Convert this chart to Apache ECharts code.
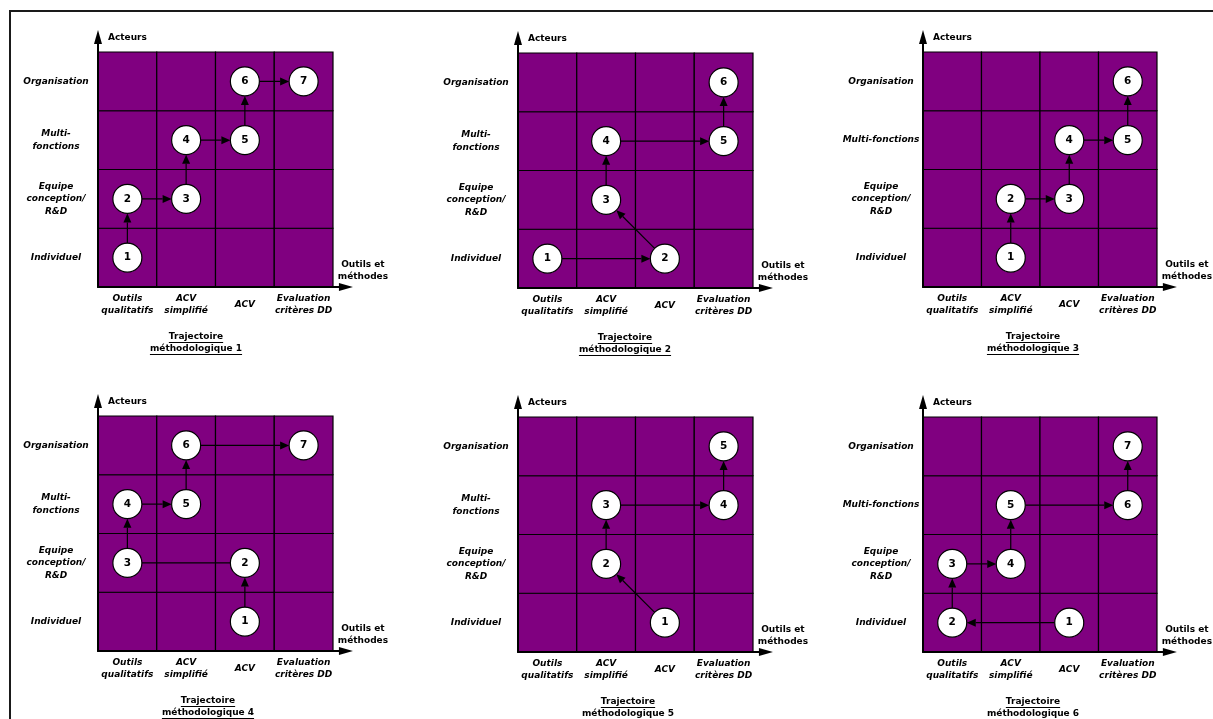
<!DOCTYPE html>
<html><head><meta charset="utf-8">
<script src="https://cdn.jsdelivr.net/npm/echarts@6/dist/echarts.min.js"></script>
<style>html,body{margin:0;padding:0;background:#fff}#c{width:1213px;height:719px}</style>
</head><body><div id="c"></div>
<script>
// ---------------- data ----------------
const tools = ['Outils\nqualitatifs', 'ACV\nsimplifié', 'ACV', 'Evaluation\ncritères DD'];
const actors = ['Individuel', 'Equipe\nconception/\nR&D', 'Multi-\nfonctions', 'Organisation'];
const actorsOneLine = ['Individuel', 'Equipe\nconception/\nR&D', 'Multi-fonctions', 'Organisation'];
const xAxisName = 'Outils et\nméthodes';
const yAxisName = 'Acteurs';
const titles = [
  ['Trajectoire', 'méthodologique 1'],
  ['Trajectoire', 'méthodologique 2'],
  ['Trajectoire', 'méthodologique 3'],
  ['Trajectoire', 'méthodologique 4'],
  ['Trajectoire', 'méthodologique 5'],
  ['Trajectoire', 'méthodologique 6']
];
// each step: [tool index, actor index]
const traj1 = [[0,0],[0,1],[1,1],[1,2],[2,2],[2,3],[3,3]];
const traj2 = [[0,0],[2,0],[1,1],[1,2],[3,2],[3,3]];
const traj3 = [[1,0],[1,1],[2,1],[2,2],[3,2],[3,3]];
const traj4 = [[2,0],[2,1],[0,1],[0,2],[1,2],[1,3],[3,3]];
const traj5 = [[2,0],[1,1],[1,2],[3,2],[3,3]];
const traj6 = [[2,0],[0,0],[0,1],[1,1],[1,2],[3,2],[3,3]];
const trajectories = [traj1, traj2, traj3, traj4, traj5, traj6];
// links drawn without arrow head (panel index -> step index)
const linksWithoutHead = [[], [], [], [1], [], []];
const actorLabelSets = [actors, actors, actorsOneLine, actors, actors, actorsOneLine];

// ---------------- layout ----------------
const CELL = 235;
const XMAX = 4.22, YMAX = 4.255;
const layout = [
  {cx: 98,  cy: 52,  tx: 196,  ty: 337},
  {cx: 518, cy: 53,  tx: 625,  ty: 338},
  {cx: 923, cy: 52,  tx: 1033, ty: 337},
  {cx: 98,  cy: 416, tx: 208,  ty: 701},
  {cx: 518, cy: 417, tx: 628,  ty: 702},
  {cx: 923, cy: 417, tx: 1033, ty: 702}
];
const FONT = '"DejaVu Sans", Verdana, sans-serif';
const PURPLE = '#800080';

const grids = [], xAxes = [], yAxes = [], series = [], graphics = [];

// outer frame
graphics.push({type: 'rect', shape: {x: 10, y: 11, width: 1400, height: 900},
  style: {fill: 'none', stroke: '#1a1a1a', lineWidth: 2}, silent: true});

const mctx = document.createElement('canvas').getContext('2d');
mctx.font = 'bold 9px ' + FONT;

const cellData = [];
tools.forEach((t, i) => actors.forEach((a, j) => cellData.push([i, j])));

layout.forEach((L, p) => {
  grids.push({left: L.cx, top: L.cy - CELL * (YMAX - 4) / 4,
    width: CELL * XMAX / 4, height: CELL * YMAX / 4, containLabel: false});
  const yLabels = actorLabelSets[p];
  xAxes.push({
    gridIndex: p, type: 'value', min: 0, max: XMAX, interval: 0.5, z: 10,
    axisLine: {show: true, onZero: false, lineStyle: {color: '#000', width: 2},
      symbol: ['none', 'triangle'], symbolSize: [8, 14]},
    axisTick: {show: false}, splitLine: {show: false},
    axisLabel: {
      margin: 18, verticalAlign: 'middle', align: 'center', lineHeight: 12,
      fontFamily: FONT, fontSize: 9, fontStyle: 'italic', fontWeight: 'bold', color: '#000',
      showMinLabel: true, showMaxLabel: true,
      formatter: v => {
        const k = Math.round(v * 2);
        if (Math.abs(v * 2 - k) > 1e-6 || k % 2 === 0) return '';
        return tools[(k - 1) / 2] || '';
      }
    },
    name: xAxisName, nameLocation: 'end', nameGap: 17,
    nameTextStyle: {fontFamily: FONT, fontSize: 9, fontWeight: 'bold', color: '#000',
      align: 'center', verticalAlign: 'bottom', lineHeight: 12, padding: [0, 0, 4, 0]}
  });
  yAxes.push({
    gridIndex: p, type: 'value', min: 0, max: YMAX, interval: 0.5, z: 10,
    axisLine: {show: true, onZero: false, lineStyle: {color: '#000', width: 2},
      symbol: ['none', 'triangle'], symbolSize: [8, 14]},
    axisTick: {show: false}, splitLine: {show: false},
    axisLabel: {
      margin: 42, verticalAlign: 'middle', align: 'center', lineHeight: 12.5,
      fontFamily: FONT, fontSize: 9, fontStyle: 'italic', fontWeight: 'bold', color: '#000',
      formatter: v => {
        const k = Math.round(v * 2);
        if (Math.abs(v * 2 - k) > 1e-6 || k % 2 === 0) return '';
        return yLabels[(k - 1) / 2] || '';
      }
    },
    name: yAxisName, nameLocation: 'end', nameGap: -1,
    nameTextStyle: {fontFamily: FONT, fontSize: 9, fontWeight: 'bold', color: '#000',
      align: 'left', verticalAlign: 'middle', padding: [0, 0, 0, 10]}
  });

  // cells
  series.push({
    type: 'custom', xAxisIndex: p, yAxisIndex: p, z: 1, silent: true,
    data: cellData,
    encode: {x: 0, y: 1},
    renderItem: (params, api) => {
      const tl = api.coord([api.value(0), api.value(1) + 1]);
      const sz = api.size([1, 1]);
      return {type: 'rect', shape: {x: tl[0], y: tl[1], width: sz[0], height: sz[1]},
        style: {fill: PURPLE, stroke: '#000', lineWidth: 1.2}};
    }
  });

  // arrows
  const tr = trajectories[p];
  const links = [];
  for (let k = 0; k < tr.length - 1; k++) {
    links.push([tr[k][0], tr[k][1], tr[k + 1][0], tr[k + 1][1],
      linksWithoutHead[p].includes(k) ? 0 : 1]);
  }
  series.push({
    type: 'custom', xAxisIndex: p, yAxisIndex: p, z: 3, silent: true,
    data: links,
    encode: {x: [0, 2], y: [1, 3]},
    renderItem: (params, api) => {
      const a = api.coord([api.value(0) + 0.5, api.value(1) + 0.5]);
      const b = api.coord([api.value(2) + 0.5, api.value(3) + 0.5]);
      const dx = b[0] - a[0], dy = b[1] - a[1];
      const len = Math.hypot(dx, dy), ux = dx / len, uy = dy / len;
      const R = 14.5, HL = 9, HW = 4;
      const s = [a[0] + ux * R, a[1] + uy * R];
      const e = [b[0] - ux * R, b[1] - uy * R];
      const head = api.value(4) === 1;
      const base = [e[0] - ux * HL, e[1] - uy * HL];
      const children = [{type: 'line',
        shape: {x1: s[0], y1: s[1], x2: head ? base[0] : e[0], y2: head ? base[1] : e[1]},
        style: {stroke: '#000', lineWidth: 1.2}}];
      if (head) {
        children.push({type: 'polygon', shape: {points: [e,
          [base[0] - uy * HW, base[1] + ux * HW], [base[0] + uy * HW, base[1] - ux * HW]]},
          style: {fill: '#000'}});
      }
      return {type: 'group', children};
    }
  });

  // steps
  series.push({
    type: 'scatter', xAxisIndex: p, yAxisIndex: p, z: 4, silent: true,
    symbol: 'circle', symbolSize: 29,
    itemStyle: {color: '#fff', borderColor: '#000', borderWidth: 1.2, opacity: 1},
    label: {show: true, position: 'inside', formatter: q => String(q.dataIndex + 1),
      fontFamily: FONT, fontSize: 10.5, fontWeight: 'bold', color: '#000'},
    data: tr.map(s => [s[0] + 0.5, s[1] + 0.5])
  });

  // title
  titles[p].forEach((line, li) => {
    const y = L.ty + li * 12;
    graphics.push({type: 'text', x: L.tx, y: y, silent: true,
      style: {text: line, font: 'bold 9px ' + FONT, fill: '#000', align: 'center', verticalAlign: 'middle'}});
    const w = mctx.measureText(line).width;
    graphics.push({type: 'line', silent: true,
      shape: {x1: L.tx - w / 2, y1: y + 5.5, x2: L.tx + w / 2, y2: y + 5.5},
      style: {stroke: '#000', lineWidth: 1}});
  });
});

const chart = echarts.init(document.getElementById('c'), null, {renderer: 'canvas'});
chart.setOption({
  animation: false,
  backgroundColor: '#fff',
  grid: grids, xAxis: xAxes, yAxis: yAxes, series: series, graphic: graphics
});
</script></body></html>
